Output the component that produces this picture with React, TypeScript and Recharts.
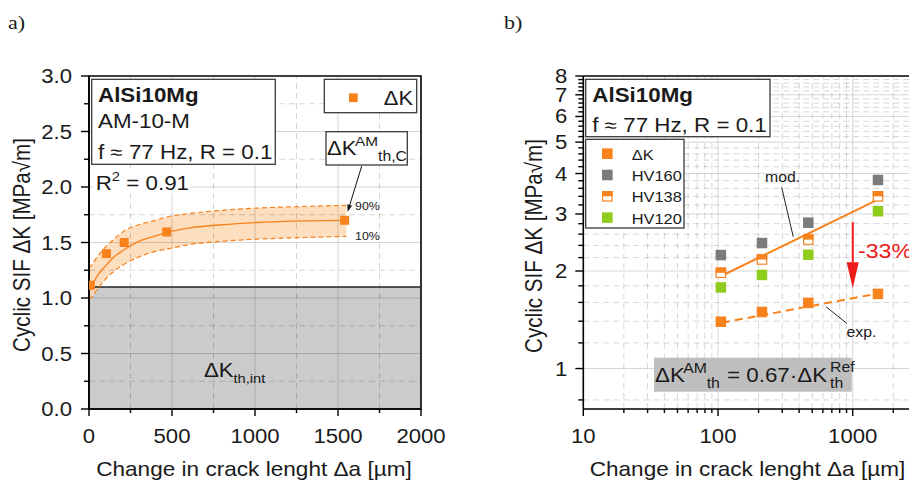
import React from 'react';
import { ComposedChart, XAxis, YAxis, Scatter, Line, Area, ReferenceLine, ReferenceArea } from 'recharts';

const SANS = '"Liberation Sans", Arial, sans-serif';
const SERIF = '"Liberation Serif", "Times New Roman", serif';
const SX = 1.13;
const INK = '#1a1a1a';
const ORANGE = '#f8821c';
const GRAYM = '#7b7b7b';
const GREEN = '#8fcc1d';
const RED = '#f01a1a';
const BAND = '#fdd8b4';
const GRID = 'rgba(0,0,0,0.16)';
const BOX = '#3a3a3a';

// ---------- Panel a data ----------
const crackLengthA = [8, 105, 212, 468, 1540];
const deltaKA = [1.115, 1.4, 1.5, 1.595, 1.7];
const fitX = [0, 12, 50, 100, 150, 207, 300, 400, 468, 600, 800, 1010, 1300, 1550];
const fitMean = [1.08, 1.1, 1.2, 1.29, 1.37, 1.43, 1.51, 1.56, 1.59, 1.63, 1.66, 1.68, 1.695, 1.7];
const fitUpper90 = [1.27, 1.29, 1.37, 1.46, 1.53, 1.6, 1.66, 1.7, 1.73, 1.76, 1.79, 1.81, 1.825, 1.835];
const fitLower10 = [0.99, 1.0, 1.08, 1.17, 1.24, 1.3, 1.37, 1.42, 1.44, 1.48, 1.51, 1.53, 1.545, 1.555];
const thresholdIntrinsic = 1.1;
const xTicksA = [0, 250, 500, 750, 1000, 1250, 1500, 1750, 2000];
const yTicksA = [0, 0.25, 0.5, 0.75, 1, 1.25, 1.5, 1.75, 2, 2.25, 2.5, 2.75, 3];
const gridXMajorA = [500, 1000, 1500];
const gridXMinorA = [250, 750, 1250, 1750];
const gridYMajorA = [0.5, 1, 1.5, 2, 2.5];
const gridYMinorA = [0.25, 0.75, 1.25, 1.75, 2.25, 2.75];
const arrowA = [{ x: 1643, y: 2.189 }, { x: 1558, y: 1.777 }];

// ---------- Panel b data ----------
const crackLengthB = [105, 212, 468, 1540];
const deltaKB = [1.395, 1.495, 1.595, 1.7];
const hv160 = [2.24, 2.44, 2.82, 3.82];
const hv138 = [1.975, 2.17, 2.5, 3.4];
const hv120 = [1.78, 1.945, 2.245, 3.06];
const modLineX = [103, 1550];
const modLineY = [1.92, 3.33];
const expLineX = [107, 1540];
const expLineY = [1.385, 1.705];
const xTicksB = [10, 20, 30, 40, 50, 60, 70, 80, 90, 100, 200, 300, 400, 500, 600, 700, 800, 900, 1000, 2000];
const yTicksB = [0.8, 1, 1.2, 1.4, 1.6, 1.8, 2, 2.2, 2.4, 2.6, 2.8, 3, 3.2, 3.4, 3.6, 3.8, 4, 4.2, 4.4, 4.6, 4.8, 5, 5.2, 5.4, 5.6, 5.8, 6, 6.2, 6.4, 6.6, 6.8, 7, 7.2, 7.4, 7.6, 7.8, 8];
const gridXMajorB = [100, 1000];
const gridXMinorB = [20, 30, 40, 50, 60, 70, 80, 90, 200, 300, 400, 500, 600, 700, 800, 900, 2000];
const gridYMajorB = [1, 2, 3, 4, 5, 6, 7];
const gridYMinorB = [0.8, 1.2, 1.4, 1.6, 1.8, 2.2, 2.4, 2.6, 2.8, 3.2, 3.4, 3.6, 3.8, 4.2, 4.4, 4.6, 4.8, 5.2, 5.4, 5.6, 5.8, 6.2, 6.4, 6.6, 6.8, 7.2, 7.4, 7.6, 7.8];
const modLeader = [{ x: 297, y: 3.62 }, { x: 362, y: 2.55 }];
const expLeader = [{ x: 634, y: 1.551 }, { x: 903, y: 1.379 }];
const reductionArrow = [{ x: 1000, y: 2.83 }, { x: 1000, y: 1.768 }];

const T = ({ x, y, size, anchor = 'start', weight = 'normal', fill = INK, family = SANS, children }: any) => (
  <text transform={`translate(${x},${y}) scale(${SX},1)`} fontSize={size} textAnchor={anchor} fontWeight={weight} fill={fill} fontFamily={family}>
    {children}
  </text>
);

const arrowShape = (color: string, headLen: number, headW: number, sw: number) => (p: any) => {
  const { x1, y1, x2, y2 } = p;
  const dx = x2 - x1, dy = y2 - y1;
  const L = Math.hypot(dx, dy) || 1;
  const ux = dx / L, uy = dy / L;
  const bx = x2 - ux * headLen, by = y2 - uy * headLen;
  const px = -uy, py = ux;
  return (
    <g>
      <line x1={x1} y1={y1} x2={bx} y2={by} stroke={color} strokeWidth={sw} />
      <polygon points={`${x2},${y2} ${bx + (px * headW) / 2},${by + (py * headW) / 2} ${bx - (px * headW) / 2},${by - (py * headW) / 2}`} fill={color} />
    </g>
  );
};

const XTickA = (p: any) => {
  const v = p.payload.value;
  const major = v % 500 === 0;
  return (
    <g>
      <line x1={p.x} x2={p.x} y1={p.y} y2={p.y + (major ? 7 : 4)} stroke="#000" strokeWidth={1.4} />
      {major && <T x={p.x} y={p.y + 33.5} size={19.6} anchor="middle">{String(v)}</T>}
    </g>
  );
};
const YTickA = (p: any) => {
  const v = p.payload.value;
  const major = Math.abs(v * 2 - Math.round(v * 2)) < 1e-6;
  return (
    <g>
      <line x1={p.x} x2={p.x - (major ? 8 : 5)} y1={p.y} y2={p.y} stroke="#000" strokeWidth={1.4} />
      {major && <T x={p.x - 17} y={p.y + 7} size={19.6} anchor="end">{v.toFixed(1)}</T>}
    </g>
  );
};
const XTickB = (p: any) => {
  const v = p.payload.value;
  const major = v === 10 || v === 100 || v === 1000;
  return (
    <g>
      <line x1={p.x} x2={p.x} y1={p.y} y2={p.y + (major ? 7 : 4)} stroke="#000" strokeWidth={1.4} />
      {major && <T x={p.x} y={p.y + 33.5} size={19.6} anchor="middle">{String(v)}</T>}
    </g>
  );
};
const YTickB = (p: any) => {
  const v = p.payload.value;
  const major = Math.abs(v - Math.round(v)) < 1e-6;
  return (
    <g>
      <line x1={p.x} x2={p.x - (major ? 8 : 5)} y1={p.y} y2={p.y} stroke="#000" strokeWidth={1.4} />
      {major && <T x={p.x - 16} y={p.y + 7} size={19.6} anchor="end">{String(Math.round(v))}</T>}
    </g>
  );
};

const sq = (color: string, s: number) => (p: any) => (
  <rect x={p.cx - s / 2} y={p.cy - s / 2} width={s} height={s} fill={color} />
);
const halfSq = (color: string, s: number) => (p: any) => (
  <g>
    <rect x={p.cx - s / 2 + 0.6} y={p.cy - s / 2 + 0.6} width={s - 1.2} height={s - 1.2} fill="#fff" stroke={color} strokeWidth={1.2} />
    <rect x={p.cx - s / 2} y={p.cy - s / 2} width={s} height={s / 2} fill={color} />
  </g>
);

export default function App() {
  const bandData = fitX.map((x, i) => ({ x, band: [fitLower10[i], fitUpper90[i]] }));
  const meanData = fitX.map((x, i) => ({ x, y: fitMean[i] }));
  const loData = fitX.map((x, i) => ({ x, y: fitLower10[i] }));
  const hiData = fitX.map((x, i) => ({ x, y: fitUpper90[i] }));
  const ptsA = crackLengthA.map((x, i) => ({ x, y: deltaKA[i] }));

  const ptsDK = crackLengthB.map((x, i) => ({ x, y: deltaKB[i] }));
  const pts160 = crackLengthB.map((x, i) => ({ x, y: hv160[i] }));
  const pts138 = crackLengthB.map((x, i) => ({ x, y: hv138[i] }));
  const pts120 = crackLengthB.map((x, i) => ({ x, y: hv120[i] }));
  const modData = modLineX.map((x, i) => ({ x, y: modLineY[i] }));
  const expData = expLineX.map((x, i) => ({ x, y: expLineY[i] }));

  return (
    <div style={{ position: 'fixed', left: 0, top: 0, width: 909, height: 485, overflow: 'hidden', background: '#fff' }}>
      <div style={{ position: 'absolute', left: 0, top: 0 }}>
        <ComposedChart width={450} height={485} margin={{ top: 76, right: 29, bottom: 0, left: 0 }}>
          <XAxis type="number" dataKey="x" domain={[0, 2000]} allowDataOverflow ticks={xTicksA} interval={0} tickLine={false} tickSize={0} tickMargin={0} height={76} axisLine={{ stroke: '#000', strokeWidth: 1.6 }} tick={XTickA} />
          <YAxis type="number" domain={[0, 3]} allowDataOverflow ticks={yTicksA} interval={0} tickLine={false} tickSize={0} tickMargin={0} width={89} axisLine={{ stroke: '#000', strokeWidth: 1.6 }} tick={YTickA} />
          <ReferenceArea x1={0} x2={2000} y1={0} y2={thresholdIntrinsic} fill="#cbcbcb" fillOpacity={1} stroke="none" />
          {gridXMajorA.map((v) => <ReferenceLine key={'gxa' + v} x={v} stroke={GRID} strokeWidth={1} />)}
          {gridXMinorA.map((v) => <ReferenceLine key={'gxi' + v} x={v} stroke={GRID} strokeWidth={1} strokeDasharray="6 4" />)}
          {gridYMajorA.map((v) => <ReferenceLine key={'gya' + v} y={v} stroke={GRID} strokeWidth={1} />)}
          {gridYMinorA.map((v) => <ReferenceLine key={'gyi' + v} y={v} stroke={GRID} strokeWidth={1} strokeDasharray="6 4" />)}
          <ReferenceLine y={thresholdIntrinsic} stroke="#222" strokeWidth={1.5} />
          <Area data={bandData} type="monotone" dataKey="band" fill={BAND} fillOpacity={0.85} stroke="none" isAnimationActive={false} />
          <Line data={hiData} type="monotone" dataKey="y" stroke={ORANGE} strokeWidth={1.2} strokeDasharray="5 3" dot={false} isAnimationActive={false} />
          <Line data={loData} type="monotone" dataKey="y" stroke={ORANGE} strokeWidth={1.2} strokeDasharray="5 3" dot={false} isAnimationActive={false} />
          <Line data={meanData} type="monotone" dataKey="y" stroke={ORANGE} strokeWidth={1.3} dot={false} isAnimationActive={false} />
          <ReferenceArea x1={0} x2={2000} y1={0} y2={3} fill="none" stroke="#000" strokeWidth={1.6} />
          <ReferenceLine segment={arrowA} stroke="#111" shape={arrowShape('#111', 7, 5, 1)} />
          <Scatter data={ptsA} dataKey="y" shape={sq(ORANGE, 9)} isAnimationActive={false} />
        </ComposedChart>
      </div>

      <div style={{ position: 'absolute', left: 470, top: 0 }}>
        <ComposedChart width={470} height={485} margin={{ top: 76, right: 23, bottom: 0, left: 0 }}>
          <XAxis type="number" scale="log" dataKey="x" domain={[10, 3000]} allowDataOverflow ticks={xTicksB} interval={0} tickLine={false} tickSize={0} tickMargin={0} height={76} axisLine={{ stroke: '#000', strokeWidth: 1.6 }} tick={XTickB} />
          <YAxis type="number" scale="log" domain={[0.75, 8]} allowDataOverflow ticks={yTicksB} interval={0} tickLine={false} tickSize={0} tickMargin={0} width={113.3} axisLine={{ stroke: '#000', strokeWidth: 1.6 }} tick={YTickB} />
          {gridXMajorB.map((v) => <ReferenceLine key={'gxa' + v} x={v} stroke={GRID} strokeWidth={1} />)}
          {gridXMinorB.map((v) => <ReferenceLine key={'gxi' + v} x={v} stroke={GRID} strokeWidth={1} strokeDasharray="6 4" />)}
          {gridYMajorB.map((v) => <ReferenceLine key={'gya' + v} y={v} stroke={GRID} strokeWidth={1} />)}
          {gridYMinorB.map((v) => <ReferenceLine key={'gyi' + v} y={v} stroke={GRID} strokeWidth={1} strokeDasharray="6 4" />)}
          <ReferenceLine y={8} stroke="#000" strokeWidth={1.6} />
          <Line data={modData} type="linear" dataKey="y" stroke={ORANGE} strokeWidth={2} dot={false} isAnimationActive={false} />
          <Line data={expData} type="linear" dataKey="y" stroke={ORANGE} strokeWidth={2} strokeDasharray="8 5" dot={false} isAnimationActive={false} />
          <ReferenceLine segment={modLeader} stroke="#222" strokeWidth={1} />
          <ReferenceLine segment={expLeader} stroke="#222" strokeWidth={1} />
          <ReferenceLine segment={reductionArrow} stroke={RED} shape={arrowShape(RED, 26, 12, 2)} />
          <Scatter data={pts160} dataKey="y" shape={sq(GRAYM, 10.5)} isAnimationActive={false} />
          <Scatter data={pts120} dataKey="y" shape={sq(GREEN, 10.5)} isAnimationActive={false} />
          <Scatter data={pts138} dataKey="y" shape={halfSq(ORANGE, 10.5)} isAnimationActive={false} />
          <Scatter data={ptsDK} dataKey="y" shape={sq(ORANGE, 10.5)} isAnimationActive={false} />
        </ComposedChart>
      </div>

      <svg width={909} height={485} style={{ position: 'absolute', left: 0, top: 0, pointerEvents: 'none' }}>
        <T x={8} y={29} size={19.5} family={SERIF}>a)</T>
        <T x={504} y={29} size={19.5} family={SERIF}>b)</T>

        {/* Panel a annotations */}
        <rect x={91.7} y={79.3} width={183.6} height={85} fill="#fff" stroke={BOX} strokeWidth={1.3} />
        <T x={98} y={101.7} size={19.8} weight="bold">AlSi10Mg</T>
        <T x={98} y={128.3} size={19.8}>AM-10-M</T>
        <T x={98} y={159.3} size={19.8}>f ≈ 77 Hz, R = 0.1</T>
        <rect x={93} y={168} width={97} height={25} fill="#fff" />
        <T x={95.7} y={190} size={19.8}>R<tspan dy={-9} fontSize={13}>2</tspan><tspan dy={9} fontSize={19.8}> = 0.91</tspan></T>

        <rect x={324.3} y={79.3} width={92.4} height={33.4} fill="#fff" stroke={BOX} strokeWidth={1.3} />
        <rect x={349} y={93.4} width={8.7} height={8.7} fill={ORANGE} />
        <T x={413} y={105} size={19.4} anchor="end">ΔK</T>

        <rect x={326} y={131.7} width={81.3} height={33.3} fill="#fff" stroke={BOX} strokeWidth={1.3} />
        <T x={327} y={155} size={19.6}>ΔK</T>
        <T x={355} y={146} size={13.6}>AM</T>
        <T x={378} y={161} size={14}>th,C</T>
        <T x={355} y={210} size={11}>90%</T>
        <T x={355} y={240} size={11}>10%</T>

        <T x={204} y={376.7} size={19.6}>ΔK</T>
        <T x={233.5} y={383} size={13}>th,int</T>

        <text transform="translate(30,245) scale(1.13,1) rotate(-90)" fontSize={20.6} textAnchor="middle" fill={INK} fontFamily={SANS}>Cyclic SIF ΔK [MPa√m]</text>
        <T x={254} y={476} size={20} anchor="middle">Change in crack lenght Δa [µm]</T>

        {/* Panel b annotations */}
        <rect x={585.7} y={79.3} width={184.3} height={57.4} fill="#fff" stroke={BOX} strokeWidth={1.3} />
        <T x={592.3} y={101.7} size={19.8} weight="bold">AlSi10Mg</T>
        <T x={592.3} y={131.7} size={19.8}>f ≈ 77 Hz, R = 0.1</T>

        <rect x={585.7} y={139.3} width={98.3} height={88.7} fill="#fff" stroke={BOX} strokeWidth={1.3} />
        <rect x={602} y={148.4} width={10.6} height={10.6} fill={ORANGE} />
        <rect x={602} y={169.7} width={10.6} height={10.6} fill={GRAYM} />
        <rect x={602.6} y={191.6} width={9.4} height={9.4} fill="#fff" stroke={ORANGE} strokeWidth={1.2} />
        <rect x={602} y={191} width={10.6} height={5.3} fill={ORANGE} />
        <rect x={602} y={212.3} width={10.6} height={10.6} fill={GREEN} />
        <T x={631.7} y={160} size={14.5}>ΔK</T>
        <T x={631.7} y={180.5} size={14.5}>HV160</T>
        <T x={631.7} y={202} size={14.5}>HV138</T>
        <T x={631.7} y={223.5} size={14.5}>HV120</T>

        <T x={765} y={181.7} size={14}>mod.</T>
        <T x={846.5} y={336.5} size={14}>exp.</T>
        <T x={858} y={258.3} size={20.5} fill={RED}>-33%</T>

        <rect x={654} y={357.7} width={197.7} height={34} fill="#bebebe" />
        <T x={655} y={381.7} size={19.8}>ΔK</T>
        <T x={683.3} y={373} size={14}>AM</T>
        <T x={706.7} y={388} size={14}>th</T>
        <T x={727} y={381.7} size={19.8}>= 0.67·ΔK</T>
        <T x={830} y={371.7} size={14}>Ref</T>
        <T x={830} y={388} size={14}>th</T>

        <text transform="translate(542,246) scale(1.13,1) rotate(-90)" fontSize={20.6} textAnchor="middle" fill={INK} fontFamily={SANS}>Cyclic SIF ΔK [MPa√m]</text>
        <T x={747.5} y={476} size={20} anchor="middle">Change in crack lenght Δa [µm]</T>
      </svg>
    </div>
  );
}
